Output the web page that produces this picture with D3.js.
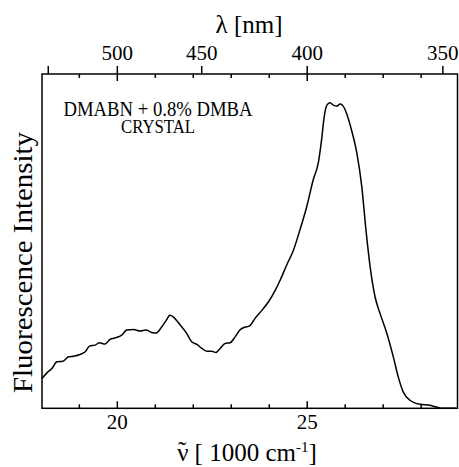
<!DOCTYPE html>
<html>
<head>
<meta charset="utf-8">
<script src="https://cdn.jsdelivr.net/npm/d3@7"></script>
<style>
  body { margin: 0; background: #fff; }
  svg text { font-family: "Liberation Serif", "Times New Roman", serif; fill: #000; }
</style>
</head>
<body>
<script>
// wavenumber in 1000 cm-1, intensity in arbitrary units (0-100 = frame height)
var wavenumber = [18.03, 18.16, 18.29, 18.42, 18.58, 18.73, 18.86, 19.03, 19.17, 19.28,
  19.43, 19.54, 19.69, 19.82, 20.00, 20.13, 20.26, 20.44, 20.61, 20.77,
  20.92, 21.03, 21.18, 21.30, 21.40, 21.49, 21.67, 21.84, 21.97, 22.11,
  22.24, 22.37, 22.50, 22.61, 22.72, 22.85, 22.98, 23.11, 23.24, 23.38,
  23.49, 23.64, 23.82, 23.99, 24.17, 24.30, 24.47, 24.65, 24.82, 25.00,
  25.17, 25.31, 25.39, 25.46, 25.53, 25.61, 25.70, 25.79, 25.88, 25.96,
  26.05, 26.18, 26.32, 26.45, 26.56, 26.67, 26.80, 26.93, 27.11, 27.28,
  27.41, 27.54, 27.72, 27.98, 28.24, 28.41, 28.59, 28.77, 28.94];
var intensity = [8.9, 10.6, 11.9, 13.9, 14.1, 15.4, 15.6, 16.1, 16.9, 18.6,
  18.9, 19.6, 19.2, 20.6, 21.2, 21.9, 23.4, 23.6, 23.1, 23.4,
  22.7, 22.5, 24.3, 26.3, 27.8, 27.3, 24.9, 22.4, 19.9, 19.1,
  17.9, 17.1, 17.1, 16.7, 17.9, 19.4, 19.6, 21.3, 23.4, 24.3,
  24.6, 26.9, 29.3, 31.8, 35.3, 38.3, 42.8, 47.3, 53.3, 60.3,
  68.3, 73.7, 80.2, 87.2, 90.7, 91.4, 90.7, 90.4, 91.0, 90.4,
  88.2, 83.2, 76.3, 66.3, 53.3, 42.3, 33.3, 28.4, 22.4, 15.4,
  9.4, 4.9, 2.4, 1.2, 0.9, 0.4, 0.0, 0.0, 0.0];

var majorTicks = [20, 25];
var minorTicks = [19, 21, 22, 23, 24, 26, 27, 28];
var nmTicks = [550, 500, 450, 400, 350];
var nmLabels = [500, 450, 400, 350];

var fLeft = 42, fRight = 457.5, fTop = 74, fBottom = 408.3;

var svg = d3.select("body").append("svg")
    .attr("width", 459)
    .attr("height", 467);

var x = d3.scaleLinear().domain([18.03, 28.97]).range([fLeft, fRight]);
var y = d3.scaleLinear().domain([0, 100]).range([fBottom, fTop]);

var data = wavenumber.map(function(d, i) { return {nu: d, v: intensity[i]}; });

// frame
svg.append("rect")
    .attr("x", fLeft).attr("y", fTop)
    .attr("width", fRight - fLeft).attr("height", fBottom - fTop)
    .attr("fill", "none").attr("stroke", "#000").attr("stroke-width", 1.5);

function styleAxis(g, size) {
  g.select(".domain").remove();
  g.selectAll("line").attr("stroke-width", 1.5);
  g.selectAll("text").attr("font-size", size)
    .attr("font-family", "Liberation Serif, Times New Roman, serif");
}

// bottom axis, ticks inside
svg.append("g")
    .attr("transform", "translate(0," + fBottom + ")")
    .call(d3.axisBottom(x).tickValues(majorTicks).tickSize(-7).tickPadding(6).tickFormat(d3.format("d")))
    .call(styleAxis, 21);
svg.append("g")
    .attr("transform", "translate(0," + fBottom + ")")
    .call(d3.axisBottom(x).tickValues(minorTicks).tickSize(-4).tickFormat(""))
    .call(styleAxis, 21);

// top: inner wavenumber ticks
svg.append("g")
    .attr("transform", "translate(0," + fTop + ")")
    .call(d3.axisTop(x).tickValues(majorTicks).tickSize(-7).tickFormat(""))
    .call(styleAxis, 21);
svg.append("g")
    .attr("transform", "translate(0," + fTop + ")")
    .call(d3.axisTop(x).tickValues(minorTicks).tickSize(-4).tickFormat(""))
    .call(styleAxis, 21);

// top: wavelength ticks, outside
svg.append("g")
    .attr("transform", "translate(0," + fTop + ")")
    .call(d3.axisTop(x)
      .tickValues(nmTicks.map(function(n) { return 1e4 / n; }))
      .tickSize(8).tickPadding(6)
      .tickFormat(function(d) {
        var n = Math.round(1e4 / d);
        return nmLabels.indexOf(n) >= 0 ? n : "";
      }))
    .call(styleAxis, 21);

// spectrum
svg.append("path")
    .datum(data)
    .attr("fill", "none")
    .attr("stroke", "#000")
    .attr("stroke-width", 1.5)
    .attr("d", d3.line()
      .x(function(d) { return x(d.nu); })
      .y(function(d) { return y(d.v); })
      .curve(d3.curveMonotoneX));

// titles
svg.append("text")
    .attr("x", 249).attr("y", 33)
    .attr("text-anchor", "middle")
    .attr("font-size", 25)
    .text("\u03bb [nm]");

svg.append("text")
    .attr("transform", "translate(31.5,262.5) rotate(-90)")
    .attr("text-anchor", "middle")
    .attr("font-size", 28)
    .attr("textLength", 261)
    .attr("lengthAdjust", "spacingAndGlyphs")
    .text("Fluorescence Intensity");

// nu with tilde on top
var xl = svg.append("text")
    .attr("x", 247).attr("y", 461)
    .attr("text-anchor", "middle")
    .attr("font-size", 25);
xl.append("tspan").text("\u03bd");
xl.append("tspan").attr("dx", -10.5).attr("dy", -2).text("\u02dc");
xl.append("tspan").attr("dx", 2).attr("dy", 2).text(" [ 1000 cm");
xl.append("tspan").attr("font-size", 15).attr("dy", -9).text("-1");
xl.append("tspan").attr("dy", 9).text("]");

svg.append("text")
    .attr("x", 158).attr("y", 116)
    .attr("text-anchor", "middle")
    .attr("font-size", 20)
    .attr("textLength", 189)
    .attr("lengthAdjust", "spacingAndGlyphs")
    .text("DMABN + 0.8% DMBA");
svg.append("text")
    .attr("x", 158).attr("y", 133)
    .attr("text-anchor", "middle")
    .attr("font-size", 19)
    .attr("textLength", 74)
    .attr("lengthAdjust", "spacingAndGlyphs")
    .text("CRYSTAL");
</script>
</body>
</html>
